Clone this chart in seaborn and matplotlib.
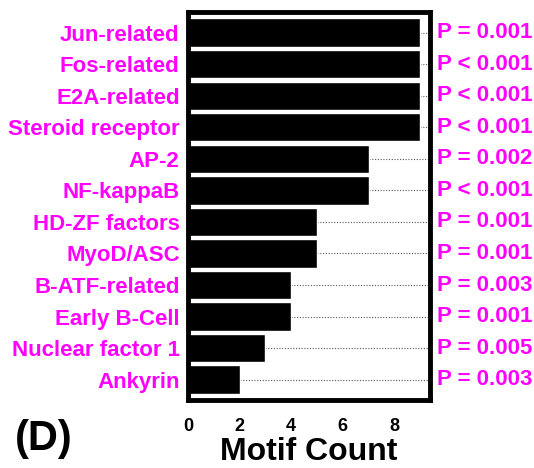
import pandas as pd
import seaborn as sns
import matplotlib.pyplot as plt

motifs = ["Jun-related", "Fos-related", "E2A-related", "Steroid receptor", "AP-2",
          "NF-kappaB", "HD-ZF factors", "MyoD/ASC", "B-ATF-related", "Early B-Cell",
          "Nuclear factor 1", "Ankyrin"]
counts = [9, 9, 9, 9, 7, 7, 5, 5, 4, 4, 3, 2]
pvals = ["P = 0.001", "P < 0.001", "P < 0.001", "P < 0.001", "P = 0.002", "P < 0.001",
         "P = 0.001", "P = 0.001", "P = 0.003", "P = 0.001", "P = 0.005", "P = 0.003"]

frame = pd.DataFrame({"Motif": motifs, "Count": counts})

sns.set_style("white")
plt.rcParams['font.family'] = ['Liberation Sans', 'DejaVu Sans']
plt.rcParams['font.weight'] = 'bold'
plt.rcParams['text.color'] = 'black'
plt.rcParams['axes.labelcolor'] = 'black'
plt.rcParams['xtick.color'] = 'black'

fig = plt.figure(figsize=(5.34, 4.68), dpi=100)
ax = fig.add_axes([0.352, 0.145, 0.453, 0.829])

sns.barplot(data=frame, x="Count", y="Motif", orient="h", color="black",
            width=0.9, saturation=1, ax=ax)

xmax = 9.37
ax.set_xlim(0, xmax)
ax.set_ylim(len(motifs) - 0.35, -0.65)

for i, (c, p) in enumerate(zip(counts, pvals)):
    ax.plot([c, xmax], [i, i], ls=(0, (1, 1.5)), color="#555555", lw=0.8, zorder=0)
    ax.text(1.03, i, p, transform=ax.get_yaxis_transform(), color="#ff00ff",
            fontsize=16, fontweight="bold", va="center", ha="left")

ax.set_xticks([0, 2, 4, 6, 8])
ax.tick_params(axis="x", direction="out", length=7, width=3, labelsize=13, pad=6,
               colors="black")
ax.tick_params(axis="y", length=0, labelsize=16, labelcolor="#ff00ff", pad=6)
for lab in ax.get_yticklabels():
    lab.set_fontweight("bold")
for lab in ax.get_xticklabels():
    lab.set_fontweight("bold")

for s in ax.spines.values():
    s.set_linewidth(3.5)
    s.set_color("black")

ax.set_ylabel("")
ax.set_xlabel("Motif Count", fontsize=23, fontweight="bold", labelpad=1, color="black")

fig.text(0.027, 0.02, "(D)", fontsize=30, fontweight="bold", ha="left", va="bottom",
         color="black")

fig.savefig("out.png", dpi=100)
